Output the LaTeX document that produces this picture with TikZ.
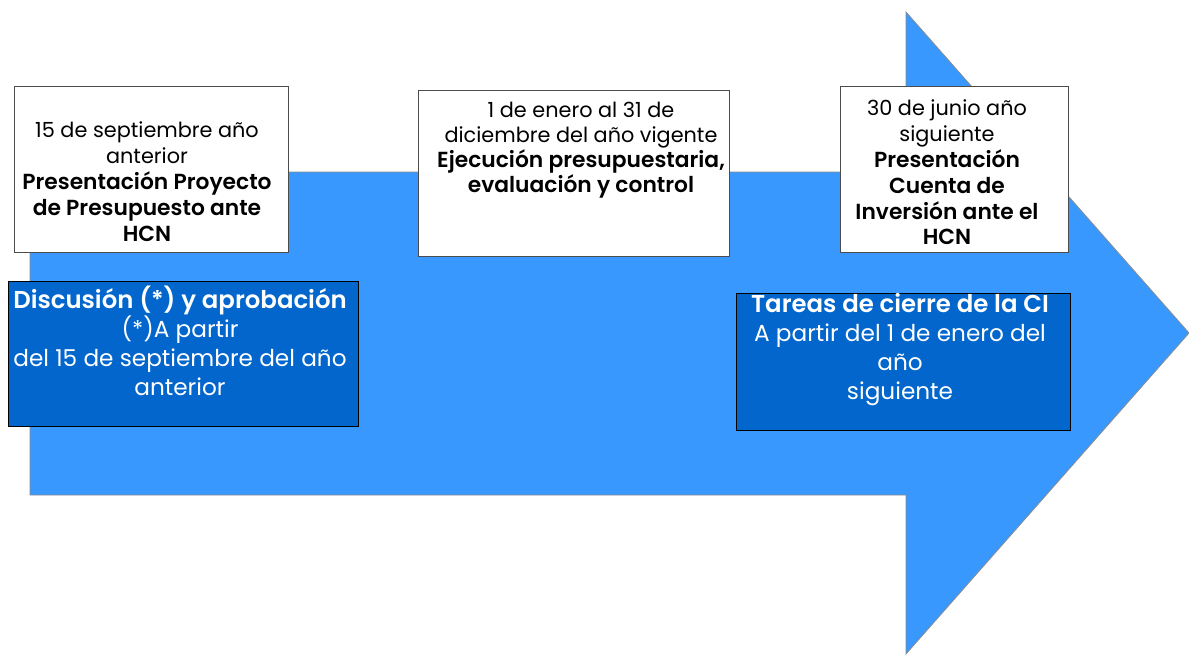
\documentclass[tikz,border=0pt]{standalone}
\usepackage{fontspec}
\setmainfont{Poppins}[BoldFont=Poppins SemiBold]
\definecolor{arrowblue}{RGB}{56,152,253}
\definecolor{boxblue}{RGB}{2,102,204}
\newcommand{\bwt}[1]{{\fontsize{21.8}{26}\selectfont\bfseries #1}}
\newcommand{\bdk}[1]{{\fontsize{24.4}{29}\selectfont\bfseries #1}}
\begin{document}
\begin{tikzpicture}[x=1pt,y=-1pt,
  whitebox/.style={draw=black!70,line width=0.8pt,fill=white,inner sep=0pt},
  darkbox/.style={draw=black,line width=0.8pt,fill=boxblue,inner sep=0pt},
  blacktxt/.style={align=center,text=black,inner sep=0pt},
  whitetxt/.style={align=center,text=white,inner sep=0pt}]
\useasboundingbox (0,0) rectangle (1189,654);
% big arrow
\draw[fill=arrowblue,draw=black!45,line width=0.8pt]
  (30,172) -- (906,172) -- (906,12) -- (1189,333) -- (906,654) -- (906,495) -- (30,495) -- cycle;
% boxes
\node[whitebox,minimum width=274pt,minimum height=166pt] (b1) at (151,169) {};
\node[whitebox,minimum width=311pt,minimum height=166pt] (b2) at (573.5,173) {};
\node[whitebox,minimum width=228pt,minimum height=166pt] (b3) at (954,169) {};
\node[darkbox,minimum width=350pt,minimum height=145pt] (b4) at (183,353.5) {};
\node[darkbox,minimum width=334pt,minimum height=137pt] (b5) at (903,361.5) {};
% texts
\node[blacktxt,font=\fontsize{20.8}{26}\selectfont] (t1) at (147,182)
  {15 de septiembre año\\anterior\\\bwt{Presentación Proyecto}\\\bwt{de Presupuesto ante}\\\bwt{HCN}};
\node[blacktxt,font=\fontsize{20.8}{25}\selectfont] (t2) at (581,150.5)
  {1 de enero al 31 de\\diciembre del año vigente\\\bwt{Ejecución presupuestaria,}\\\bwt{evaluación y control}};
\node[blacktxt,font=\fontsize{20.8}{25.8}\selectfont] (t3) at (947,172.5)
  {30 de junio año\\siguiente\\\bwt{Presentación}\\\bwt{Cuenta de}\\\bwt{Inversión ante el}\\\bwt{HCN}};
\node[whitetxt,font=\fontsize{23.2}{29}\selectfont] (t4) at (180,340.5)
  {\bdk{Discusión (*) y aprobación}\\(*)A partir\\del 15 de septiembre del año\\anterior};
\node[whitetxt,font=\fontsize{23.2}{29}\selectfont] (t5) at (900,350)
  {\bdk{Tareas de cierre de la CI}\\A partir del 1 de enero del\\año\\siguiente};
\end{tikzpicture}
\end{document}
